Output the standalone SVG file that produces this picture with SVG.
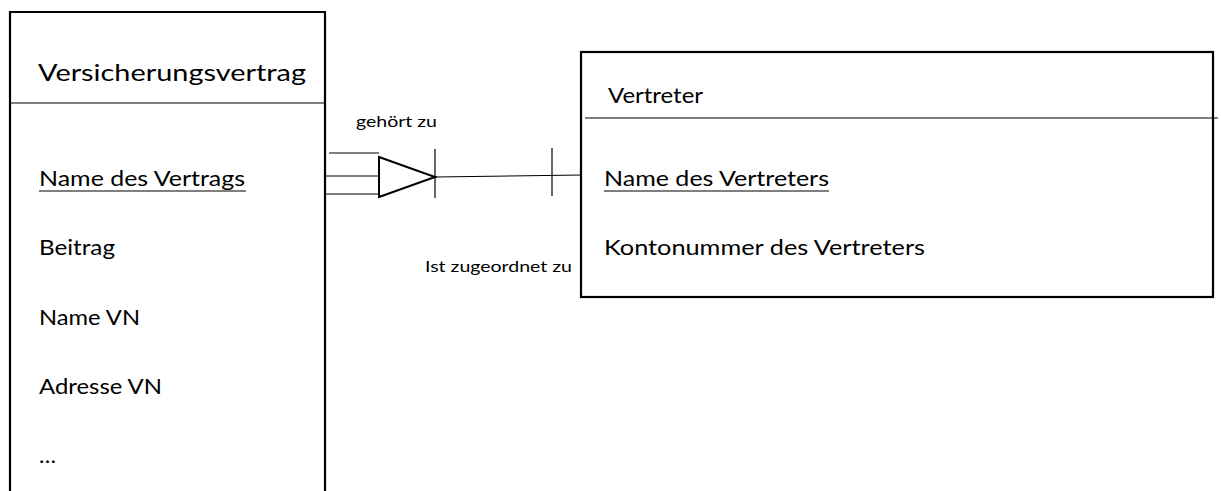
<svg xmlns="http://www.w3.org/2000/svg" width="1221" height="491" viewBox="0 0 1221 491">
  <style>
    .box { fill: none; stroke: #000; stroke-width: 2.2; }
    .div { stroke: #000; stroke-width: 1.2; }
    .t { font-family: Lato, "Liberation Sans", sans-serif; font-size: 21px; fill: #000; }
    .title { font-size: 24px; }
    .small { font-family: Lato, "Liberation Sans", sans-serif; font-size: 15px; fill: #000; }
    .ln { stroke: #000; stroke-width: 1.2; fill: none; }
  </style>
  <rect width="1221" height="491" fill="#fff"/>

  <!-- Entity: Versicherungsvertrag (open at the bottom) -->
  <g id="versicherungsvertrag">
    <path class="box" d="M10 491 V12 H325 V491"/>
    <line class="div" x1="10" y1="103" x2="325" y2="103"/>
    <text class="t title" x="38" y="81" textLength="268" lengthAdjust="spacingAndGlyphs">Versicherungsvertrag</text>
    <text class="t" x="39" y="186" textLength="206" lengthAdjust="spacingAndGlyphs">Name des Vertrags</text>
    <line class="div" x1="39" y1="191" x2="246" y2="191" stroke-width="1.5"/>
    <text class="t" x="39" y="255" textLength="76" lengthAdjust="spacingAndGlyphs">Beitrag</text>
    <text class="t" x="39" y="325" textLength="101" lengthAdjust="spacingAndGlyphs">Name VN</text>
    <text class="t" x="39" y="394" textLength="123" lengthAdjust="spacingAndGlyphs">Adresse VN</text>
    <text class="t" x="39" y="463" textLength="17" lengthAdjust="spacingAndGlyphs">…</text>
  </g>

  <!-- Entity: Vertreter -->
  <g id="vertreter">
    <rect class="box" x="581" y="52" width="632" height="245"/>
    <line class="div" x1="585" y1="118" x2="1218" y2="118"/>
    <text class="t" x="608" y="103" textLength="95" lengthAdjust="spacingAndGlyphs">Vertreter</text>
    <text class="t" x="604" y="186" textLength="225" lengthAdjust="spacingAndGlyphs">Name des Vertreters</text>
    <line class="div" x1="604" y1="191" x2="829" y2="191" stroke-width="1.5"/>
    <text class="t" x="604" y="255" textLength="321" lengthAdjust="spacingAndGlyphs">Kontonummer des Vertreters</text>
  </g>

  <!-- Relationship: crow's foot / one-to-one markers -->
  <g id="connectors">
    <line class="ln" x1="329" y1="153" x2="379" y2="153"/>
    <line class="ln" x1="324" y1="176" x2="379" y2="176"/>
    <line class="ln" x1="324" y1="194" x2="379" y2="194"/>
    <polygon points="379,157 435,177 379,197" fill="#fff" stroke="#000" stroke-width="2"/>
    <line class="ln" x1="435" y1="149" x2="435" y2="198"/>
    <line class="ln" x1="435" y1="177" x2="582" y2="175"/>
    <line class="ln" x1="552" y1="148" x2="552" y2="196"/>
    <text class="small" x="356" y="127" textLength="81" lengthAdjust="spacingAndGlyphs">gehört zu</text>
    <text class="small" x="425" y="272" textLength="147" lengthAdjust="spacingAndGlyphs">Ist zugeordnet zu</text>
  </g>
</svg>
